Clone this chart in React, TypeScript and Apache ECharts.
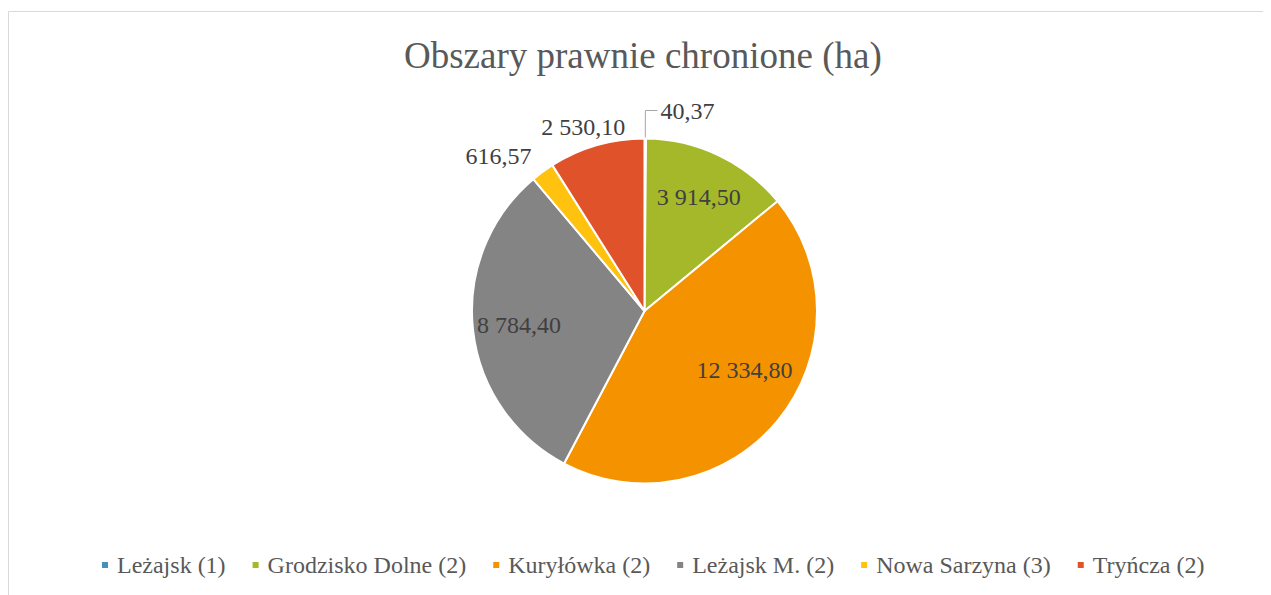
import React, { useEffect, useRef } from "react";
import * as echarts from "echarts";

const titleText = "Obszary prawnie chronione (ha)";
const categories = [
  "Leżajsk (1)",
  "Grodzisko Dolne (2)",
  "Kuryłówka (2)",
  "Leżajsk M. (2)",
  "Nowa Sarzyna (3)",
  "Tryńcza (2)",
];
const values = [40.37, 3914.5, 12334.8, 8784.4, 616.57, 2530.1];
const colors = ["#4590c0", "#a5b829", "#f59200", "#848484", "#ffc20e", "#e0532a"];

const FONT = "Liberation Serif";

const fmt = (v: number) => {
  const [i, d] = v.toFixed(2).split(".");
  return i.replace(/\B(?=(\d{3})+(?!\d))/g, " ") + "," + d;
};

// labels drawn inside the slices
const insideIdx = [1, 2, 3];

const outsideLabelCfg: Record<number, any> = {
  0: { length: 28, length2: 12, show: true, dist: 3 },
  4: { length: 19, length2: 0, show: false, dist: 0 },
  5: { length: 19.5, length2: 0, show: false, dist: -34 },
};

export default function App() {
  const ref = useRef<HTMLDivElement>(null);
  useEffect(() => {
    if (!ref.current) return;
    const chart = echarts.init(ref.current, undefined, { renderer: "svg" });
    const center = [636.5, 303];
    const R = 172.5;
    const mainData = categories.map((name, i) => {
      const o = outsideLabelCfg[i];
      return {
        name,
        value: values[i],
        itemStyle: { color: colors[i] },
        label: o
          ? { show: true, position: "outside", distanceToLabelLine: o.dist }
          : { show: false },
        labelLine: o
          ? { show: o.show, length: o.length, length2: o.length2, lineStyle: { color: "#a6a6a6", width: 1 } }
          : { show: false },
      };
    });
    const overlayData = categories.map((name, i) => ({
      name,
      value: values[i],
      label: { show: insideIdx.includes(i) },
    }));
    chart.setOption({
      animation: false,
      backgroundColor: "#ffffff",
      textStyle: { fontFamily: FONT },
      title: {
        text: titleText,
        left: 396,
        top: 29,
        padding: 0,
        textStyle: { fontFamily: FONT, fontSize: 37, fontWeight: "normal", color: "#595959" },
      },
      legend: {
        data: categories,
        top: 545,
        left: 92,
        padding: 0,
        itemWidth: 8,
        itemHeight: 8,
        itemGap: 25,
        icon: "rect",
        selectedMode: false,
        textStyle: { fontFamily: FONT, fontSize: 24, color: "#595959", padding: [0, 0, 0, 3] },
      },
      graphic: [
        {
          type: "rect",
          shape: { x: 0.5, y: 3.5, width: 1400, height: 800 },
          style: { fill: "none", stroke: "#d9d9d9", lineWidth: 1 },
          silent: true,
        },
      ],
      series: [
        {
          type: "pie",
          center,
          radius: [0, R],
          startAngle: 90,
          clockwise: true,
          avoidLabelOverlap: false,
          minShowLabelAngle: 0,
          itemStyle: { borderColor: "#ffffff", borderWidth: 2 },
          label: {
            fontFamily: FONT,
            fontSize: 24,
            color: "#404040",
            formatter: (p: any) => fmt(p.value),
          },
          emphasis: { disabled: true },
          data: mainData,
        },
        {
          type: "pie",
          center,
          radius: [74, R],
          startAngle: 90,
          clockwise: true,
          silent: true,
          avoidLabelOverlap: false,
          itemStyle: { color: "rgba(0,0,0,0)", borderWidth: 0 },
          label: {
            position: "inside",
            fontFamily: FONT,
            fontSize: 24,
            color: "#404040",
            formatter: (p: any) => fmt(p.value),
          },
          labelLayout: (p: any) => (p.dataIndex === 2 ? { dx: 2, dy: -21 } : {}),
          labelLine: { show: false },
          emphasis: { disabled: true },
          data: overlayData,
        },
      ],
    });
    return () => chart.dispose();
  }, []);
  return <div ref={ref} style={{ width: 1263, height: 587, overflow: "hidden" }} />;
}
